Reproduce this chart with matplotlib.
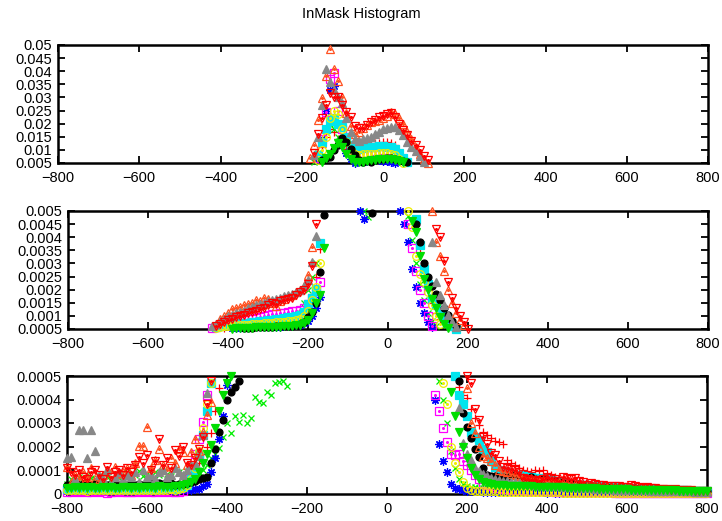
import numpy as np
import matplotlib
matplotlib.use("Agg")
import matplotlib.pyplot as plt
from matplotlib.ticker import FuncFormatter, MultipleLocator

plt.rcParams['font.family'] = ['Liberation Sans', 'DejaVu Sans']

# histogram bins, -800..800 step 10
bins = np.arange(-800, 801, 10)

# histogram values in units of 1e-6, one value per bin
# rows: -800..-460 | -450..-180 | -170..120 | 130..220 | 230..800
red_plus = [
    30, 35, 25, 40, 30, 28, 35, 30, 25, 32,
    30, 28, 35, 30, 26, 33, 30, 28, 34, 30,
    32, 30, 35, 30, 33, 36, 30, 34, 38, 40,
    45, 55, 80, 130, 170,
    200, 256, 350, 450, 550, 620, 660, 680, 700, 720,
    730, 740, 750, 760, 770, 780, 790, 800, 810, 820,
    840, 860, 890, 930, 1000, 1200, 1700, 2500,
    3539, 7000, 11000, 15000, 18000, 17000, 14000, 12000, 10500, 10000,
    10000, 10500, 11000, 11500, 12000, 12500, 12800, 13000, 13100, 12800,
    12000, 9000, 7000, 5500, 4600, 3600, 2700, 2000, 1500, 1100,
    900, 750, 650, 560, 500, 454, 420, 405, 360, 320,
    290, 260, 249, 235, 225, 220, 210, 143, 130, 120,
    110, 100, 95, 90, 100, 95, 100, 85, 80, 71,
    65, 60, 62, 55, 50, 52, 45, 42, 40, 38,
    35, 33, 30, 32, 28, 26, 25, 24, 22, 20,
    20, 18, 18, 16, 15, 15, 14, 13, 12, 12,
    11, 10, 10, 9, 9, 8, 8, 8]

green_x = [
    40, 60, 55, 70, 50, 80, 65, 60, 75, 55,
    70, 60, 85, 65, 75, 90, 70, 80, 95, 75,
    85, 70, 90, 80, 95, 85, 75, 100, 90, 85,
    95, 110, 100, 90, 100,
    120, 150, 170, 192, 242, 300, 256, 330, 306, 334,
    298, 320, 412, 391, 384, 433, 420, 470, 476, 480,
    459, 600, 800, 1100, 1500, 2000, 2500, 3005,
    5500, 9000, 13000, 17000, 20000, 18000, 15000, 12000, 9000, 7000,
    5500, 5000, 4783, 5200, 5600, 6000, 6400, 6700, 6800, 6700,
    6300, 5600, 4800, 3900, 3000, 2200, 1600, 1100, 800, 600,
    480, 400, 300, 180, 110, 60, 40, 30, 28, 26,
    25, 24, 26, 22, 24, 23, 22, 25, 21, 22,
    23, 20, 22, 21, 19, 20, 21, 18, 19, 20,
    18, 19, 17, 18, 16, 17, 16, 15, 16, 15,
    14, 15, 14, 13, 14, 13, 12, 13, 12, 12,
    11, 12, 11, 10, 11, 10, 10, 9, 10, 9,
    9, 8, 8, 8, 7, 7, 7, 6]

blue_star = [
    12, 10, 14, 11, 13, 10, 12, 15, 11, 13,
    12, 14, 10, 13, 12, 11, 14, 12, 13, 11,
    13, 12, 14, 12, 15, 13, 14, 12, 15, 16,
    15, 17, 18, 20, 30,
    40, 90, 150, 230, 330, 460, 520, 540, 550, 550,
    555, 560, 560, 565, 570, 570, 575, 580, 590, 600,
    610, 620, 640, 670, 720, 820, 1000, 1300,
    1731, 6000, 14000, 25000, 33000, 34500, 20000, 13000, 9000, 6500,
    5000, 4700, 5200, 5600, 5800, 6000, 6000, 5900, 5700, 5400,
    5000, 4500, 3800, 2800, 2100, 1500, 1100, 750, 560, 400,
    210, 140, 90, 40, 25, 18, 14, 12, 10, 9,
    9, 8, 8, 7, 8, 7, 7, 6, 7, 6,
    6, 6, 5, 6, 5, 5, 5, 4, 5, 4,
    4, 4, 4, 3, 4, 3, 3, 3, 3, 3,
    3, 3, 2, 3, 2, 2, 2, 2, 2, 2,
    2, 2, 2, 2, 1, 1, 1, 1, 1, 1,
    1, 1, 1, 1, 1, 1, 1, 1]

magenta_sq = [
    8, 6, 10, 7, 9, 5, 8, 10, 6, 9,
    4, 8, 6, 9, 7, 5, 8, 6, 10, 7,
    9, 6, 8, 10, 7, 9, 6, 5, 8, 10,
    60, 110, 170, 230, 303,
    420, 520, 560, 650, 700, 750, 780, 800, 820, 850,
    870, 900, 930, 960, 1000, 1030, 1060, 1080, 1100, 1120,
    1150, 1170, 1200, 1224, 1300, 1450, 1700, 2000,
    2300, 7000, 14000, 24600, 37000, 39200, 25000, 18000, 13000, 10000,
    9000, 8500, 8800, 9000, 9200, 9500, 9700, 9800, 9800, 9500,
    8500, 6500, 4500, 3600, 2700, 2000, 1500, 1000, 620, 420,
    350, 280, 220, 170, 165, 168, 140, 120, 100, 80,
    60, 45, 35, 30, 25, 22, 20, 18, 16, 15,
    14, 13, 12, 12, 11, 10, 10, 9, 9, 8,
    8, 8, 7, 7, 7, 6, 6, 6, 6, 5,
    5, 5, 5, 5, 4, 4, 4, 4, 4, 4,
    4, 4, 3, 3, 3, 3, 3, 3, 3, 3,
    3, 3, 3, 3, 2, 2, 2, 2]

cyan_sq = [
    20, 22, 18, 21, 19, 23, 20, 18, 22, 20,
    21, 19, 20, 22, 18, 21, 20, 19, 23, 20,
    22, 20, 21, 19, 23, 22, 24, 21, 25, 28,
    35, 60, 100, 170, 250,
    350, 470, 560, 620, 660, 690, 700, 710, 720, 730,
    740, 760, 780, 800, 820, 840, 860, 880, 900, 920,
    940, 960, 1000, 1050, 1150, 1450, 1700, 2025,
    3768, 8000, 13000, 18000, 21000, 22000, 20000, 18700, 15000, 12000,
    10500, 10500, 10800, 11000, 11000, 11200, 11300, 11300, 11200, 11000,
    10500, 9000, 7000, 5200, 4700, 3700, 2800, 2200, 1700, 1400,
    1200, 1000, 800, 600, 500, 420, 380, 330, 263, 240,
    228, 190, 178, 140, 114, 100, 95, 90, 85, 80,
    78, 75, 72, 70, 68, 65, 62, 60, 56, 52,
    50, 48, 45, 42, 40, 38, 36, 35, 33, 32,
    30, 29, 28, 27, 26, 25, 24, 23, 22, 21,
    20, 19, 18, 18, 17, 16, 16, 15, 15, 14,
    14, 13, 13, 12, 12, 11, 11, 10]

yellow_circ = [
    15, 13, 16, 14, 15, 12, 16, 14, 13, 15,
    14, 16, 13, 15, 14, 16, 15, 13, 14, 16,
    15, 14, 16, 15, 17, 16, 18, 17, 20, 25,
    35, 60, 110, 180, 280,
    380, 470, 540, 580, 600, 620, 630, 640, 650, 660,
    670, 680, 690, 700, 710, 720, 740, 750, 760, 780,
    800, 820, 850, 900, 1000, 1200, 1600, 2100,
    3005, 6000, 10000, 15000, 22000, 25000, 23500, 18000, 13000, 10000,
    8500, 8200, 8300, 8400, 8500, 8600, 8700, 8800, 8800, 8600,
    8000, 6500, 5000, 4400, 3300, 2600, 2300, 1900, 1400, 1000,
    700, 470, 380, 200, 130, 90, 50, 25, 15, 12,
    11, 10, 10, 9, 9, 8, 8, 8, 7, 7,
    7, 6, 6, 6, 6, 5, 5, 5, 5, 5,
    5, 4, 4, 4, 4, 4, 4, 3, 3, 3,
    3, 3, 3, 3, 3, 3, 2, 2, 2, 2,
    2, 2, 2, 2, 2, 2, 2, 2, 2, 1,
    1, 1, 1, 1, 1, 1, 1, 1]

black_dot = [
    38, 35, 40, 36, 42, 38, 35, 40, 37, 39,
    36, 40, 38, 35, 41, 37, 40, 36, 42, 38,
    40, 43, 38, 45, 42, 40, 44, 38, 42, 40,
    45, 48, 55, 60, 65,
    71, 130, 190, 263, 313, 398, 430, 454, 480, 520,
    540, 550, 560, 570, 580, 580, 590, 600, 600, 610,
    620, 630, 650, 700, 780, 946, 1160, 1480,
    2685, 4847, 6000, 7000, 7300, 10000, 11900, 14500, 13000, 10300,
    8000, 6000, 5200, 4911, 5500, 6000, 6400, 6700, 6900, 6900,
    6700, 6300, 5700, 5200, 4500, 3800, 3000, 2500, 2150, 1850,
    1600, 1300, 1050, 800, 600, 480, 341, 282, 235, 190,
    157, 110, 80, 76, 75, 72, 70, 72, 75, 80,
    70, 65, 62, 70, 60, 56, 60, 55, 50, 55,
    50, 46, 40, 45, 36, 40, 32, 30, 33, 28,
    27, 26, 28, 24, 25, 22, 23, 21, 20, 22,
    20, 19, 18, 18, 17, 16, 16, 15, 15, 14,
    14, 13, 13, 12, 12, 12, 11, 11]

orange_tri = [
    114, 45, 80, 60, 90, 70, 108, 60, 57, 80,
    100, 93, 114, 70, 90, 110, 80, 130, 202, 202,
    283, 110, 142, 189, 120, 100, 150, 130, 189, 176,
    120, 176, 232, 180, 260,
    334, 390, 700, 900, 1000, 1100, 1250, 1300, 1350, 1400,
    1450, 1500, 1600, 1550, 1700, 1650, 1500, 1377, 1550, 1650,
    1750, 1800, 1900, 2000, 2150, 2559, 3615, 7000,
    12000, 21400, 29800, 38000, 48500, 41000, 36400, 30000, 24000, 19000,
    16000, 17000, 18500, 19500, 20500, 21000, 21500, 22000, 23000, 24500,
    23500, 22000, 20000, 17000, 14000, 11000, 8500, 6500, 5000, 3800,
    3300, 2700, 2000, 1500, 1100, 850, 650, 450, 300, 256,
    200, 160, 150, 140, 120, 100, 95, 90, 85, 80,
    75, 70, 68, 65, 62, 60, 58, 55, 52, 50,
    48, 46, 44, 42, 40, 38, 36, 34, 33, 32,
    30, 29, 28, 27, 26, 25, 24, 23, 22, 21,
    20, 19, 18, 18, 17, 16, 16, 15, 14, 14,
    13, 13, 12, 12, 11, 11, 10, 10]

gray_tri = [
    150, 155, 60, 270, 270, 150, 270, 180, 80, 60,
    100, 50, 70, 90, 60, 80, 70, 90, 50, 100,
    70, 80, 60, 90, 100, 70, 80, 110, 90, 80,
    100, 120, 130, 160, 250,
    426, 600, 700, 800, 900, 1000, 1050, 1100, 1150, 1200,
    1300, 1350, 1400, 1450, 1500, 1550, 1600, 1650, 1700, 1750,
    1800, 1850, 1900, 2000, 2150, 2350, 3066, 4047,
    8000, 15000, 27000, 41000, 36000, 33000, 30000, 27900, 22000, 17000,
    14000, 13500, 14000, 14500, 15000, 16000, 17000, 18000, 18500, 18800,
    18800, 17500, 15500, 13000, 11200, 9500, 7500, 5500, 3800, 2300,
    1800, 1400, 1050, 780, 560, 362, 213, 170, 143, 110,
    95, 85, 75, 68, 62, 58, 55, 52, 50, 48,
    46, 44, 42, 40, 38, 36, 35, 34, 33, 32,
    30, 29, 28, 27, 26, 25, 24, 23, 22, 21,
    20, 19, 18, 18, 17, 16, 16, 15, 15, 14,
    14, 13, 13, 12, 12, 12, 11, 11, 10, 10,
    10, 9, 9, 9, 8, 8, 8, 8]

red_tri = [
    110, 90, 80, 100, 70, 60, 90, 100, 80, 60,
    114, 70, 90, 100, 80, 110, 90, 120, 155, 130,
    164, 100, 140, 232, 121, 150, 110, 185, 160, 198,
    130, 120, 150, 190, 240,
    380, 480, 600, 700, 780, 850, 900, 950, 1000, 1050,
    1100, 1150, 1200, 1250, 1300, 1400, 1500, 1450, 1550, 1600,
    1650, 1700, 1800, 1900, 2000, 2200, 2900, 4500,
    9000, 16000, 22000, 27000, 31700, 30000, 30000, 27000, 24600, 22700,
    19000, 18300, 18500, 19500, 20500, 21500, 22500, 23000, 23700, 24000,
    22500, 20000, 17500, 15500, 13500, 11800, 10000, 7800, 6000, 4300,
    4000, 3100, 2300, 1700, 1300, 1000, 750, 500, 469, 358,
    313, 242, 210, 171, 164, 140, 114, 110, 105, 100,
    93, 65, 60, 58, 57, 55, 60, 71, 65, 60,
    54, 69, 65, 60, 65, 55, 50, 36, 45, 40,
    38, 36, 34, 32, 34, 30, 28, 26, 36, 32,
    28, 22, 26, 24, 22, 20, 20, 18, 15, 18,
    16, 14, 15, 13, 12, 12, 11, 10]

green_tri = [
    25, 22, 28, 24, 26, 23, 27, 25, 22, 26,
    24, 28, 25, 23, 27, 26, 24, 28, 25, 27,
    26, 28, 25, 30, 27, 29, 28, 30, 32, 35,
    40, 50, 60, 90, 130,
    170, 206, 280, 350, 420, 470, 500, 520, 530, 540,
    550, 550, 560, 560, 570, 570, 580, 580, 590, 600,
    610, 620, 640, 670, 720, 830, 1100, 1500,
    1796, 3577, 5500, 7000, 8500, 10700, 12500, 11000, 8500, 6500,
    5500, 5300, 5500, 5800, 6000, 6200, 6400, 6500, 6500, 6400,
    6200, 5800, 5200, 4600, 4200, 3300, 2400, 2000, 1650, 1300,
    950, 700, 530, 430, 330, 260, 200, 150, 110, 80,
    60, 50, 45, 40, 38, 36, 35, 34, 33, 32,
    32, 31, 30, 30, 29, 29, 28, 28, 27, 27,
    26, 26, 25, 25, 24, 24, 23, 23, 22, 22,
    21, 21, 20, 20, 19, 19, 18, 18, 17, 17,
    16, 16, 15, 15, 14, 14, 14, 13, 13, 13,
    12, 12, 12, 11, 11, 11, 10, 10]

# gnuplot-like point styles: values, colour, marker, filled, size
series = [
    (red_plus, '#ff0000', '+', True, 6),
    (green_x, '#00ee00', 'x', True, 5),
    (blue_star, '#0000ff', (8, 2, 0), True, 6),
    (magenta_sq, '#ff00ff', 's', False, 5.5),
    (cyan_sq, '#00e5ee', 's', True, 5.5),
    (yellow_circ, '#eeee00', 'o', False, 5.5),
    (black_dot, '#000000', 'o', True, 5),
    (orange_tri, '#ff5020', '^', False, 6),
    (gray_tri, '#888888', '^', True, 6),
    (red_tri, '#ff0000', 'v', False, 6),
    (green_tri, '#00dd00', 'v', True, 6),
]

for s in series:
    assert len(s[0]) == len(bins), len(s[0])

panels = [
    # (left, bottom, width, height), ylim, ytick step
    ([58/722, 1 - 163/521, 650/722, 118/521], (0.005, 0.05), 0.005),
    ([68/722, 1 - 329/521, 640/722, 118/521], (0.0005, 0.005), 0.0005),
    ([67/722, 1 - 493.5/521, 640/722, 117.5/521], (0.0, 0.0005), 0.0001),
]

fig = plt.figure(figsize=(7.22, 5.21), dpi=100)
fig.text(0.5, 1 - 14/521, 'InMask Histogram', ha='center', va='center', fontsize=10.5)

for rect, (lo, hi), step in panels:
    ax = fig.add_axes(rect)
    for vals, color, marker, filled, ms in series:
        y = np.array(vals) * 1e-6
        keep = (y >= lo) & (y <= hi)
        xs, ys = bins[keep], y[keep]
        if filled:
            ax.plot(xs, ys, ls='none', marker=marker, ms=ms, color=color,
                    mew=0.9, clip_on=False, zorder=3)
        else:
            ax.plot(xs, ys, ls='none', marker=marker, ms=ms, mfc='none',
                    mec=color, mew=0.9, clip_on=False, zorder=3)
            ax.plot(xs, ys, ls='none', marker='o', ms=1.2, color=color,
                    clip_on=False, zorder=3)
    ax.set_xlim(-800, 800)
    ax.set_ylim(lo, hi)
    ax.xaxis.set_major_locator(MultipleLocator(200))
    ax.yaxis.set_major_locator(MultipleLocator(step))
    ax.yaxis.set_major_formatter(FuncFormatter(lambda v, p: '%g' % round(v, 6)))
    ax.tick_params(direction='in', length=5, width=1.3, top=True, right=True,
                   labelsize=10.5)
    ax.tick_params(axis='x', pad=6)
    ax.tick_params(axis='y', pad=4)
    for sp in ax.spines.values():
        sp.set_linewidth(1.8)

fig.savefig('out.png', dpi=100)
